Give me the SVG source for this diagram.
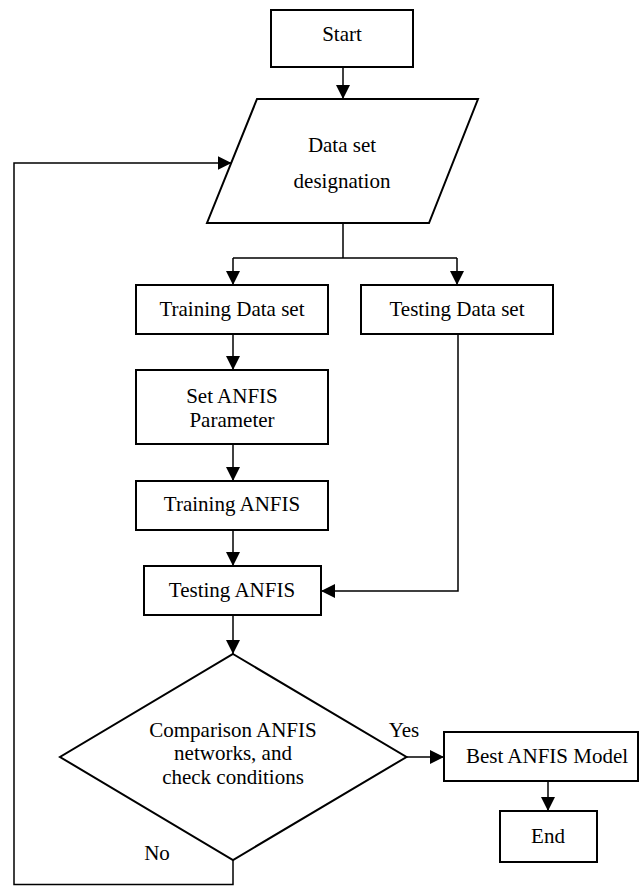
<svg xmlns="http://www.w3.org/2000/svg" width="640" height="886" viewBox="0 0 640 886">
<defs>
<marker id="ah" markerWidth="14" markerHeight="14" refX="14" refY="7" orient="auto" markerUnits="userSpaceOnUse">
<path d="M0,0 L14,7 L0,14 z" fill="#000"/>
</marker>
<style>
.n{fill:#fff;stroke:#000;stroke-width:2}
.t{font-family:"Liberation Serif","Times New Roman",serif;font-size:21px;fill:#000;text-anchor:middle}
.c{fill:none;stroke:#000;stroke-width:1.5}
.a{marker-end:url(#ah)}
</style>
</defs>
<rect width="640" height="886" fill="#fff"/>
<g id="connectors">
<path class="c a" d="M343,67 V99"/>
<path class="c" d="M343,223 V258 H233 M343,258 H457"/>
<path class="c a" d="M233,258 V285"/>
<path class="c a" d="M457,258 V285"/>
<path class="c a" d="M233,334 V370"/>
<path class="c a" d="M233,444 V481"/>
<path class="c a" d="M233,530 V566"/>
<path class="c a" d="M458,334 V591 H321"/>
<path class="c a" d="M233,615 V654"/>
<path class="c a" d="M406.5,757 H444"/>
<path class="c a" d="M548,781 V811"/>
<path class="c a" d="M233,860 V884.5 H14 V163 H231.5"/>
<text class="t" x="404" y="737">Yes</text>
<text class="t" x="157" y="860">No</text>
</g>
<g id="start">
<rect class="n" x="271" y="10" width="142" height="57"/>
<text class="t" x="342" y="41">Start</text>
</g>
<g id="dataset">
<polygon class="n" points="257,99 478,99 429,223 207,223"/>
<text class="t" x="342" y="152">Data set</text>
<text class="t" x="342" y="188">designation</text>
</g>
<g id="training-data">
<rect class="n" x="136" y="285" width="192" height="49"/>
<text class="t" x="232" y="316">Training Data set</text>
</g>
<g id="testing-data">
<rect class="n" x="361" y="285" width="192" height="49"/>
<text class="t" x="457" y="316">Testing Data set</text>
</g>
<g id="set-params">
<rect class="n" x="136" y="370" width="192" height="74"/>
<text class="t" x="232" y="403">Set ANFIS</text>
<text class="t" x="232" y="427">Parameter</text>
</g>
<g id="training-anfis">
<rect class="n" x="136" y="481" width="192" height="49"/>
<text class="t" x="232" y="511">Training ANFIS</text>
</g>
<g id="testing-anfis">
<rect class="n" x="144" y="566" width="177" height="49"/>
<text class="t" x="232" y="597">Testing ANFIS</text>
</g>
<g id="decision">
<polygon class="n" points="233,654 406.5,757 233,860 60,757"/>
<text class="t" x="233" y="737">Comparison ANFIS</text>
<text class="t" x="233" y="760">networks, and</text>
<text class="t" x="233" y="784">check conditions</text>
</g>
<g id="best">
<rect class="n" x="444" y="732" width="194" height="49"/>
<text class="t" x="547" y="763">Best ANFIS Model</text>
</g>
<g id="end">
<rect class="n" x="500" y="811" width="97" height="51"/>
<text class="t" x="548" y="843">End</text>
</g>
</svg>
